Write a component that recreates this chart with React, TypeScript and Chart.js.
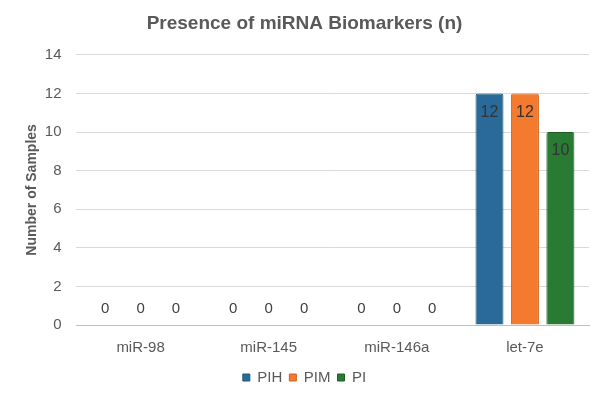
import React, { useEffect, useRef } from "react";
import { Chart, registerables } from "chart.js";

Chart.register(...registerables);

const categories = ["miR-98", "miR-145", "miR-146a", "let-7e"];
const pihValues = [0, 0, 0, 12];
const pimValues = [0, 0, 0, 12];
const piValues = [0, 0, 0, 10];
const seriesNames = ["PIH", "PIM", "PI"];
const yTicks = [0, 2, 4, 6, 8, 10, 12, 14];

const FONT = "'Liberation Sans', Arial, Helvetica, sans-serif";

const labelPlugin = {
  id: "valueLabels",
  afterDatasetsDraw(chart: any) {
    const ctx = chart.ctx;
    ctx.save();
    ctx.textAlign = "center";
    ctx.textBaseline = "middle";
    chart.data.datasets.forEach((ds: any, i: number) => {
      const meta = chart.getDatasetMeta(i);
      meta.data.forEach((bar: any, j: number) => {
        const v = ds.data[j];
        if (v === 0) {
          ctx.font = `15px ${FONT}`;
          ctx.fillStyle = "#404040";
          ctx.fillText(String(v), bar.x, bar.y - 16);
        } else {
          ctx.font = `16px ${FONT}`;
          ctx.fillStyle = "#333333";
          ctx.fillText(String(v), bar.x, bar.y + 19);
        }
      });
    });
    ctx.restore();
  },
};

export default function App() {
  const ref = useRef<HTMLCanvasElement>(null);
  useEffect(() => {
    if (!ref.current) return;
    const chart = new Chart(ref.current, {
      type: "bar",
      data: {
        labels: categories,
        datasets: [
          { label: seriesNames[0], data: pihValues, backgroundColor: "#2a6a98", borderColor: "#1d557c", borderWidth: 1, borderRadius: { topLeft: 2, topRight: 2 }, borderSkipped: "bottom" },
          { label: seriesNames[1], data: pimValues, backgroundColor: "#f47a30", borderColor: "#cf631f", borderWidth: 1, borderRadius: { topLeft: 2, topRight: 2 }, borderSkipped: "bottom" },
          { label: seriesNames[2], data: piValues, backgroundColor: "#297a33", borderColor: "#1c5f25", borderWidth: 1, borderRadius: { topLeft: 2, topRight: 2 }, borderSkipped: "bottom" },
        ],
      },
      options: {
        animation: false,
        responsive: false,
        maintainAspectRatio: false,
        layout: { padding: { left: 20, right: 19, top: 4, bottom: 6 } },
        datasets: { bar: { categoryPercentage: 0.83, barPercentage: 0.79 } },
        plugins: {
          title: {
            display: true,
            text: "Presence of miRNA Biomarkers (n)",
            color: "#595959",
            font: { family: FONT, size: 19, weight: "bold" },
            padding: { top: 8, bottom: 20 },
          },
          legend: {
            position: "bottom",
            labels: {
              color: "#595959",
              font: { family: FONT, size: 15 },
              boxWidth: 7,
              boxHeight: 7,
              padding: 7,
            },
          },
          tooltip: { enabled: false },
        },
        scales: {
          x: {
            grid: { display: false },
            border: { color: "#bfbfbf" },
            ticks: { color: "#595959", font: { family: FONT, size: 15 }, padding: 6 },
          },
          y: {
            min: 0,
            max: 14,
            afterBuildTicks: (axis: any) => {
              axis.ticks = yTicks.map((v) => ({ value: v }));
            },
            grid: { color: "#d9d9d9", drawTicks: false, tickLength: 0 },
            border: { display: false },
            ticks: { color: "#595959", font: { family: FONT, size: 15 }, padding: 15 },
            title: {
              display: true,
              text: "Number of Samples",
              color: "#595959",
              font: { family: FONT, size: 14, weight: "bold" },
              padding: { top: 4, bottom: -11 },
            },
          },
        },
      },
      plugins: [labelPlugin],
    });
    return () => chart.destroy();
  }, []);
  return (
    <div style={{ position: "fixed", left: 0, top: 0, width: 608, height: 401, background: "#fff" }}>
      <canvas ref={ref} width={608} height={401} />
    </div>
  );
}
